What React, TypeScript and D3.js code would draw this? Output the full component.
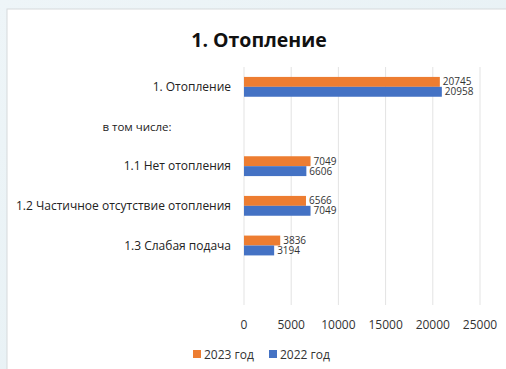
import React from "react";
import * as d3 from "d3";

const categories = ["1. Отопление", "в том числе:", "1.1 Нет отопления", "1.2 Частичное отсутствие отопления", "1.3 Слабая подача", ""];
const values2023: (number | null)[] = [20745, null, 7049, 6566, 3836, null];
const values2022: (number | null)[] = [20958, null, 6606, 7049, 3194, null];
const seriesNames = ["2023 год", "2022 год"];
const xTicks = [0, 5000, 10000, 15000, 20000, 25000];
const title = "1. Отопление";

const W = 506;
const H = 369;
const FONT = "'Open Sans', 'Noto Sans', sans-serif";
const COLORS = ["#ED7D31", "#4472C4"];

export default function App() {
  const x = d3.scaleLinear().domain([0, 25000]).range([244, 480]);
  const y = d3.scaleBand<string>().domain(categories.map((c, i) => i + "")).range([67, 305]).paddingInner(0.5).paddingOuter(0.25);
  const series = [values2023, values2022];
  const bh = y.bandwidth() / 2;

  return (
    <svg width={W} height={H} style={{ position: "fixed", left: 0, top: 0 }} fontFamily={FONT}>
      <defs>
        <linearGradient id="bg" x1="0" y1="0" x2="1" y2="1">
          <stop offset="0" stopColor="#eef5f8" />
          <stop offset="1" stopColor="#e4eff3" />
        </linearGradient>
      </defs>
      <rect x={0} y={0} width={W} height={H} fill="url(#bg)" />
      <rect x={7} y={9} width={W} height={H} fill="#ffffff" stroke="#d6d9db" strokeWidth={1} />
      <text x={259} y={47} textAnchor="middle" fontSize={19.5} fontWeight="bold" fill="#111">{title}</text>
      {xTicks.map((t) => (
        <g key={t}>
          <line x1={x(t)} x2={x(t)} y1={67} y2={305} stroke="#e3e3e3" strokeWidth={1} />
          <text x={x(t)} y={329} textAnchor="middle" fontSize={12} fill="#333">{t}</text>
        </g>
      ))}
      {categories.map((c, i) => {
        const y0 = y(i + "")!;
        const cy = y0 + y.bandwidth() / 2;
        const special = values2023[i] === null && c !== "";
        return (
          <g key={i}>
            {c !== "" && (
              special ? (
                <text x={137} y={cy + 4} textAnchor="middle" fontSize={11.5} fill="#222">{c}</text>
              ) : (
                <text x={231} y={cy + 4} textAnchor="end" fontSize={12} fill="#222">{c}</text>
              )
            )}
            {series.map((s, k) => {
              const v = s[i];
              if (v === null) return null;
              const by = y0 + k * bh;
              return (
                <g key={k}>
                  <rect x={x(0)} y={by} width={x(v) - x(0)} height={bh} fill={COLORS[k]} />
                  <text x={x(v) + 3} y={by + bh / 2 + 3.5} fontSize={10} fill="#333">{v}</text>
                </g>
              );
            })}
          </g>
        );
      })}
      {seriesNames.map((n, k) => {
        const lx = 193 + k * 76;
        return (
          <g key={n}>
            <rect x={lx} y={350} width={8} height={8} fill={COLORS[k]} />
            <text x={lx + 11} y={358.5} fontSize={12} fill="#333">{n}</text>
          </g>
        );
      })}
    </svg>
  );
}
